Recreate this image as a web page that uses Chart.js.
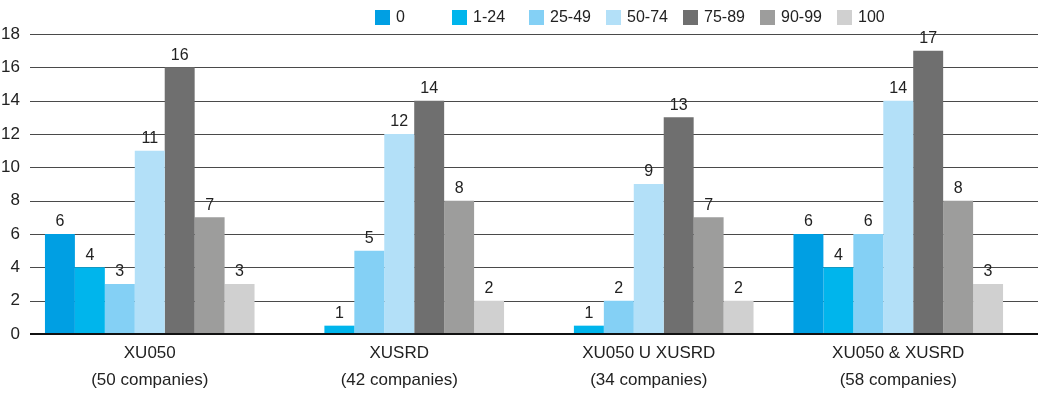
<!DOCTYPE html>
<html>
<head>
<meta charset="utf-8">
<script src="https://cdn.jsdelivr.net/npm/chart.js@4/dist/chart.umd.min.js"></script>
<style>
  html, body { margin: 0; padding: 0; background: #fff; }
  #wrap { width: 1043px; height: 406px; position: relative; }
</style>
</head>
<body>
<div id="wrap"><canvas id="chart"></canvas></div>
<script>
  // Categories (two-line tick labels)
  const groups = [
    ['XU050', '(50 companies)'],
    ['XUSRD', '(42 companies)'],
    ['XU050 U XUSRD', '(34 companies)'],
    ['XU050 & XUSRD', '(58 companies)']
  ];

  const seriesNames = ['0', '1-24', '25-49', '50-74', '75-89', '90-99', '100'];
  const seriesColors = ['#009fe3', '#00b5ec', '#84d0f5', '#b3e0f8', '#6f6f6f', '#9d9d9c', '#d0d0d0'];

  // Label values per series (what is printed above each bar)
  const s0    = [6, null, null, 6];
  const s1_24 = [4, 1, 1, 4];
  const s25_49 = [3, 5, 2, 6];
  const s50_74 = [11, 12, 9, 14];
  const s75_89 = [16, 14, 13, 17];
  const s90_99 = [7, 8, 7, 8];
  const s100  = [3, 2, 2, 3];

  // In the source picture the "1" bars are drawn only half a unit tall
  const s1_24Heights = [4, 0.5, 0.5, 4];

  const labelValues = [s0, s1_24, s25_49, s50_74, s75_89, s90_99, s100];
  const barHeights  = [s0, s1_24Heights, s25_49, s50_74, s75_89, s90_99, s100];

  const yTicks = [0, 2, 4, 6, 8, 10, 12, 14, 16, 18];

  const FONT = "'Liberation Sans', Arial, sans-serif";
  const TEXT = '#222';

  // Gridlines spanning the whole width plus the baseline
  const gridPlugin = {
    id: 'grid',
    beforeDatasetsDraw(chart) {
      const ctx = chart.ctx;
      const y = chart.scales.y;
      ctx.save();
      ctx.lineWidth = 1;
      ctx.strokeStyle = '#4a4a4a';
      yTicks.forEach(v => {
        if (v === 0) return;
        const py = Math.round(y.getPixelForValue(v)) + 0.5;
        ctx.beginPath();
        ctx.moveTo(30, py);
        ctx.lineTo(1038, py);
        ctx.stroke();
      });
      ctx.restore();
    },
    afterDatasetsDraw(chart) {
      const ctx = chart.ctx;
      const py = Math.round(chart.scales.y.getPixelForValue(0));
      ctx.save();
      ctx.lineWidth = 2;
      ctx.strokeStyle = '#111';
      ctx.beginPath();
      ctx.moveTo(30, py);
      ctx.lineTo(1038, py);
      ctx.stroke();
      ctx.restore();
    }
  };

  // Value labels above bars
  const valueLabels = {
    id: 'valueLabels',
    afterDatasetsDraw(chart) {
      const ctx = chart.ctx;
      ctx.save();
      ctx.font = '16px ' + FONT;
      ctx.fillStyle = TEXT;
      ctx.textAlign = 'center';
      ctx.textBaseline = 'bottom';
      chart.data.datasets.forEach((ds, i) => {
        chart.getDatasetMeta(i).data.forEach((bar, j) => {
          const v = labelValues[i][j];
          if (v === null || v === undefined) return;
          ctx.fillText(String(v), bar.x, bar.y - 4);
        });
      });
      ctx.restore();
    }
  };

  // Evenly spaced legend along the top right
  const topLegend = {
    id: 'topLegend',
    afterDraw(chart) {
      const ctx = chart.ctx;
      ctx.save();
      ctx.font = '16px ' + FONT;
      ctx.textBaseline = 'middle';
      ctx.textAlign = 'left';
      chart.data.datasets.forEach((ds, i) => {
        const bx = 375 + i * 77;
        ctx.fillStyle = ds.backgroundColor;
        ctx.fillRect(bx, 10, 15, 15);
        ctx.fillStyle = TEXT;
        ctx.fillText(ds.label, bx + 21, 18);
      });
      ctx.restore();
    }
  };

  new Chart(document.getElementById('chart'), {
    type: 'bar',
    data: {
      labels: groups,
      datasets: seriesNames.map((name, i) => ({
        label: name,
        data: barHeights[i],
        backgroundColor: seriesColors[i],
        borderWidth: 0,
        categoryPercentage: 0.84,
        barPercentage: 1
      }))
    },
    options: {
      responsive: true,
      maintainAspectRatio: false,
      animation: false,
      layout: { padding: { top: 34, right: 20, bottom: 0, left: 0 } },
      plugins: {
        legend: { display: false },
        tooltip: { enabled: false }
      },
      scales: {
        x: {
          grid: { display: false, drawTicks: false },
          border: { display: false },
          ticks: {
            color: TEXT,
            padding: 6,
            font: { family: FONT, size: 17, lineHeight: 1.6 },
            maxRotation: 0
          },
          afterFit(scale) { scale.height = 72; }
        },
        y: {
          min: 0,
          max: 18,
          grid: { display: false, drawTicks: false },
          border: { display: false },
          ticks: {
            stepSize: 2,
            color: TEXT,
            padding: 5,
            font: { family: FONT, size: 17 }
          },
          afterFit(scale) { scale.width = 25; }
        }
      }
    },
    plugins: [gridPlugin, valueLabels, topLegend]
  });
</script>
</body>
</html>
